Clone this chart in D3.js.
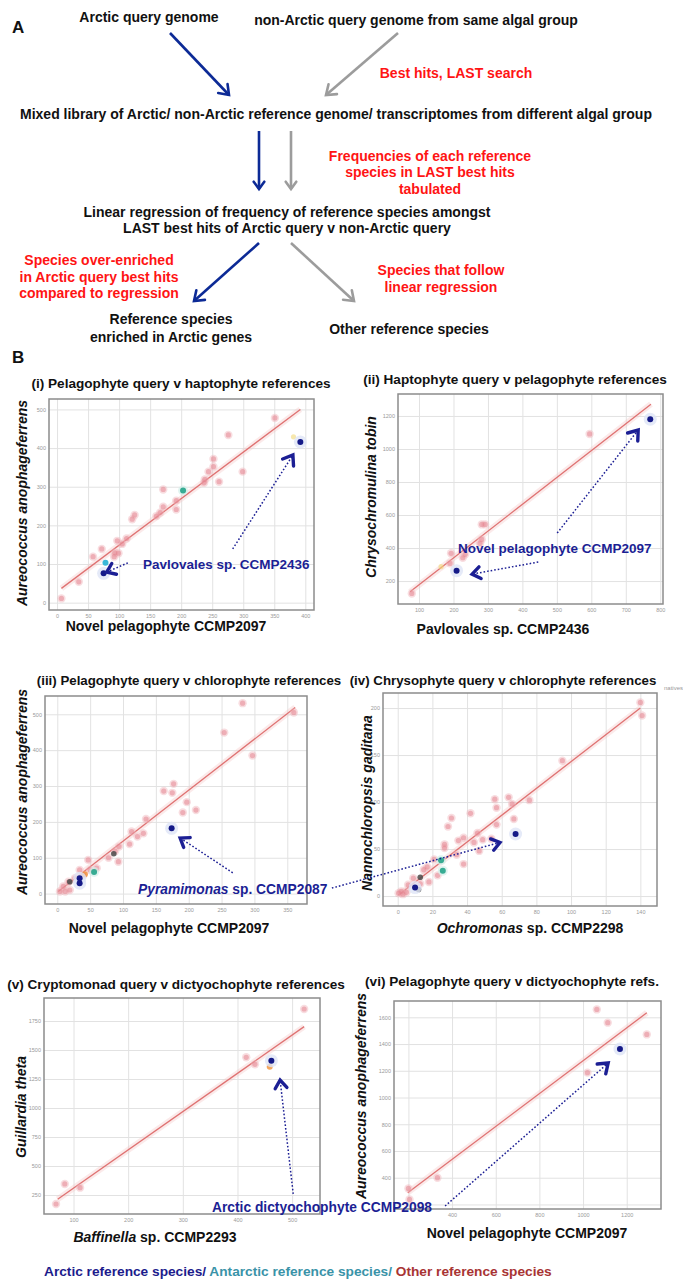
<!DOCTYPE html>
<html>
<head>
<meta charset="utf-8">
<script src="https://cdn.jsdelivr.net/npm/d3@7"></script>
<style>
  body { margin: 0; background: #fff; }
  text { font-family: "Liberation Sans", Arial, sans-serif; }
</style>
</head>
<body>
<svg id="fig" width="683" height="1286"></svg>
<script>
// ---- data ----
// (i) pelagophyte query v haptophyte references
const p1Other = [[7,11],[35,54],[58,119],[72,139],[93,129],[92,119],[99,128],[97,160],[105,152],[112,166],
  [121,216],[125,227],[160,224],[166,233],[171,248],[192,241],[192,264],[171,293],[237,310],[238,319],
  [244,339],[252,352],[252,372],[261,313],[276,434],[299,339],[351,478]];
const p1Yellow = [[381,429]];
const p1Antarctic = [[78,103],[203,290]];
const p1Arctic = [[75,76],[392,416]];
const p1Fit = [[7,37],[392,500]];
const p1XTicks = [0,50,100,150,200,250,300,350,400];
const p1YTicks = [0,100,200,300,400,500];

// (ii) haptophyte query v pelagophyte references
const p2Other = [[79,125],[190,307],[193,368],[227,341],[234,362],[277,428],[282,452],[282,543],[292,543],[595,1091]];
const p2Yellow = [[164,287]];
const p2Arctic = [[209,263],[771,1180]];
const p2Fit = [[74,135],[773,1271]];
const p2XTicks = [100,200,300,400,500,600,700,800];
const p2YTicks = [200,400,600,800,1000,1200];

// (iii) pelagophyte query v chlorophyte references
const p3Other = [[360,505],[282,531],[254,449],[297,385],[177,306],[175,281],[162,286],[197,255],[211,233],
  [191,226],[135,208],[113,173],[131,168],[122,159],[110,138],[94,131],[93,89],[78,100],[47,94],[88,118],
  [60,71],[50,66],[34,66],[40,52],[27,43],[17,33],[9,20],[4,6],[12,6],[19,10]];
const p3Orange = [[42,54]];
const p3Dark = [[19,33],[86,111]];
const p3Antarctic = [[56,60]];
const p3Arctic = [[34,43],[34,29],[174,182]];
const p3Fit = [[1.5,6],[362,519]];
const p3XTicks = [0,50,100,150,200,250,300,350];
const p3YTicks = [0,100,200,300,400,500];

// (iv) chrysophyte query v chlorophyte references
const p4Other = [[140,206],[141,192],[95,144],[76,102],[64,105],[66,98],[56,103],[57,94],[57,76],[67,82],
  [42,88],[31,83],[29,74],[46,67],[38,62],[35,59],[49,60],[54,61],[44,57],[47,48],[27,55],[27,51],[34,44],
  [38,34],[21,39],[17,31],[15,28],[23,22],[18,15],[9,19],[13,13],[6,12],[2,5],[0.5,3],[3,2],[5,4]];
const p4Dark = [[13,20],[12,7]];
const p4Antarctic = [[25,38],[26,27]];
const p4Arctic = [[68,66],[10,9]];
const p4Fit = [[0.4,1],[140,200]];
const p4XTicks = [0,20,40,60,80,100,120,140];
const p4YTicks = [0,50,100,150,200];

// (v) cryptomonad query v dictyochophyte references
const p5Other = [[68,172],[84,345],[112,313],[416,1437],[432,1376],[522,1853]];
const p5Orange = [[459,1356]];
const p5Arctic = [[462,1408]];
const p5Fit = [[71,213],[522,1701]];
const p5XTicks = [100,200,300,400,500];
const p5YTicks = [250,500,750,1000,1250,1500,1750];

// (vi) pelagophyte query v dictyochophyte refs
const p6Other = [[200,320],[205,238],[333,400],[1020,1186],[1063,1659],[1113,1560],[1292,1472]];
const p6Arctic = [[1169,1363]];
const p6Fit = [[197,288],[1292,1634]];
const p6XTicks = [200,400,600,800,1000,1200];
const p6YTicks = [200,400,600,800,1000,1200,1400,1600];
// labels hidden under the "Arctic dictyochophyte" callout in the original
const p6HiddenX = [200], p6HiddenY = [200];

const navy = "#1c1f94", red = "#ff1414", grey = "#9c9c9c", flowBlue = "#0c2a96";

const svg = d3.select("#fig");

// ---------- helpers ----------
function txt(x, y, str, opt = {}) {
  return svg.append("text")
    .attr("x", x).attr("y", y)
    .attr("text-anchor", opt.anchor || "middle")
    .attr("font-size", opt.size || 14)
    .attr("font-weight", opt.weight || "bold")
    .attr("fill", opt.fill || "#111")
    .text(str);
}

function chevron(g, x1, y1, x2, y2, color, len, w) {
  const a = Math.atan2(y2 - y1, x2 - x1), s = Math.PI / 5;
  const p = d3.path();
  p.moveTo(x2 - len * Math.cos(a - s), y2 - len * Math.sin(a - s));
  p.lineTo(x2, y2);
  p.lineTo(x2 - len * Math.cos(a + s), y2 - len * Math.sin(a + s));
  g.append("path").attr("d", p.toString())
    .attr("fill", "none").attr("stroke", color)
    .attr("stroke-width", w).attr("stroke-linecap", "round");
}

function arrow(x1, y1, x2, y2, color, w, dotted, headLen, headW) {
  const g = svg.append("g");
  g.append("line")
    .attr("x1", x1).attr("y1", y1).attr("x2", x2).attr("y2", y2)
    .attr("stroke", color).attr("stroke-width", w)
    .attr("stroke-dasharray", dotted ? "1.6,2" : null);
  chevron(g, x1, y1, x2, y2, color, headLen, headW);
}

// ---------- panel A: flow chart ----------
txt(12, 33, "A", {anchor: "start", size: 17});
txt(149, 22, "Arctic query genome");
txt(416, 25, "non-Arctic query genome from same algal group");
arrow(170, 33, 229, 95, flowBlue, 2.6, false, 11, 2.6);
arrow(398, 33, 326, 95, grey, 2.6, false, 11, 2.6);
txt(456, 78, "Best hits, LAST search", {fill: red});
txt(336, 119, "Mixed library of Arctic/ non-Arctic reference genome/ transcriptomes from different algal group");
arrow(259, 131, 259, 189, flowBlue, 2.6, false, 9, 2.6);
arrow(291, 131, 291, 189, grey, 2.6, false, 9, 2.6);
txt(430, 161, "Frequencies of each reference", {fill: red});
txt(430, 177, "species in LAST best hits", {fill: red});
txt(430, 194, "tabulated", {fill: red});
txt(287, 217, "Linear regression of frequency of reference species amongst");
txt(287, 233, "LAST best hits of Arctic query v non-Arctic query");
arrow(259, 243, 194, 301, flowBlue, 2.6, false, 11, 2.6);
arrow(291, 243, 354, 301, grey, 2.6, false, 11, 2.6);
txt(99, 265, "Species over-enriched", {fill: red});
txt(99, 282, "in Arctic query best hits", {fill: red});
txt(99, 298, "compared to regression", {fill: red});
txt(441, 275, "Species that follow", {fill: red});
txt(441, 292, "linear regression", {fill: red});
txt(171, 324, "Reference species");
txt(171, 342, "enriched in Arctic genes");
txt(409, 334, "Other reference species");
txt(12, 363, "B", {anchor: "start", size: 17});

// ---------- panel B: scatter plots ----------
function labelParts(sel, parts) {
  parts.forEach(([s, it]) => sel.append("tspan").attr("font-style", it ? "italic" : "normal").text(s));
}

function drawPanel(p) {
  const x = d3.scaleLinear().domain(p.xDomain).range([p.box[0], p.box[2]]);
  const y = d3.scaleLinear().domain(p.yDomain).range([p.box[3], p.box[1]]);
  const g = svg.append("g");
  const w = p.box[2] - p.box[0], h = p.box[3] - p.box[1];
  const hx = p.hideX || [], hy = p.hideY || [];

  g.append("rect").attr("x", p.box[0]).attr("y", p.box[1]).attr("width", w).attr("height", h)
    .attr("fill", "#fff");

  const ax = g.append("g").attr("transform", `translate(0,${p.box[3]})`)
    .call(d3.axisBottom(x).tickValues(p.xTicks).tickSize(-h).tickPadding(4)
      .tickFormat(d => hx.includes(d) ? "" : d3.format("d")(d)));
  const ay = g.append("g").attr("transform", `translate(${p.box[0]},0)`)
    .call(d3.axisLeft(y).tickValues(p.yTicks).tickSize(-w).tickPadding(3)
      .tickFormat(d => hy.includes(d) ? "" : d3.format("d")(d)));
  [ax, ay].forEach(a => {
    a.select(".domain").remove();
    a.selectAll("line").attr("stroke", "#e2e2e2").attr("stroke-width", 1);
    a.selectAll("text").attr("font-size", 5.5).attr("fill", "#9a9a9a")
      .attr("font-family", "DejaVu Sans").attr("font-weight", "normal");
  });

  g.append("rect").attr("x", p.box[0]).attr("y", p.box[1]).attr("width", w).attr("height", h)
    .attr("fill", "none").attr("stroke", "#8c8c8c").attr("stroke-width", 1.5);

  const line = d3.line().x(d => x(d[0])).y(d => y(d[1]));
  g.append("path").attr("d", line(p.fit)).attr("stroke", "#f3c4c4").attr("stroke-width", 6)
    .attr("stroke-opacity", 0.35).attr("fill", "none");
  g.append("path").attr("d", line(p.fit)).attr("stroke", "#df7272").attr("stroke-width", 1.3)
    .attr("fill", "none");

  const dots = (data, fill, r, op) => g.append("g").selectAll("circle").data(data || []).join("circle")
    .attr("cx", d => x(d[0])).attr("cy", d => y(d[1])).attr("r", r)
    .attr("fill", fill).attr("fill-opacity", op);

  dots(p.other, "#f0b3ba", 4.2, 0.45);
  dots(p.other, "#e47f8c", 2.6, 0.5);
  dots(p.yellow, "#f2d878", 2.6, 0.6);
  dots(p.orange, "#f08a2a", 3, 0.75);
  dots(p.dark, "#4a4a4a", 2.8, 0.85);
  dots(p.antarctic, "#d3efea", 5, 0.7);
  dots(p.antarctic, p.antColor || "#2ea88e", 3, 0.95);
  dots(p.arctic, "#dfe5f6", 6.5, 0.8);
  dots(p.arctic, "#151a88", 3, 1);

  // titles and axis labels
  txt(p.title[0], p.title[1], p.title[2], {size: p.titleSize || 13.6});
  const xl = svg.append("text").attr("x", p.xLabel[0]).attr("y", p.xLabel[1])
    .attr("text-anchor", "middle").attr("font-size", 14).attr("font-weight", "bold").attr("fill", "#111");
  labelParts(xl, p.xLabel[2]);
  svg.append("text")
    .attr("transform", `translate(${p.yLabel[0]},${p.yLabel[1]}) rotate(-90)`)
    .attr("text-anchor", "middle").attr("font-size", 14).attr("font-weight", "bold")
    .attr("font-style", "italic").attr("fill", "#111").text(p.yLabel[2]);
  return {x, y};
}

const s1 = drawPanel({
  box: [49, 399, 314, 610], xDomain: [-13, 414], yDomain: [-19, 527],
  xTicks: p1XTicks, yTicks: p1YTicks, fit: p1Fit,
  other: p1Other, yellow: p1Yellow, antarctic: p1Antarctic.slice(1), arctic: p1Arctic,
  title: [181, 388, "(i) Pelagophyte query v haptophyte references"],
  xLabel: [166, 631, [["Novel pelagophyte CCMP2097", false]]],
  yLabel: [27, 503, "Aureococcus anophageferrens"]
});
// the other Antarctic point in (i) is a lighter cyan
svg.append("circle").attr("cx", s1.x(p1Antarctic[0][0])).attr("cy", s1.y(p1Antarctic[0][1]))
  .attr("r", 3).attr("fill", "#3ab8d8");

const s2 = drawPanel({
  box: [398, 394, 663, 604], xDomain: [39, 808], yDomain: [61, 1333],
  xTicks: p2XTicks, yTicks: p2YTicks, fit: p2Fit,
  other: p2Other, yellow: p2Yellow, arctic: p2Arctic,
  title: [515, 384, "(ii) Haptophyte query v pelagophyte references"],
  xLabel: [503, 634, [["Pavlovales sp. CCMP2436", false]]],
  yLabel: [376, 497, "Chrysochromulina tobin"]
});

const s3 = drawPanel({
  box: [45, 696, 307, 904], xDomain: [-18.7, 380], yDomain: [-29, 551],
  xTicks: p3XTicks, yTicks: p3YTicks, fit: p3Fit,
  other: p3Other, orange: p3Orange, dark: p3Dark, antarctic: p3Antarctic, arctic: p3Arctic,
  title: [189, 685, "(iii) Pelagophyte query v chlorophyte references"], titleSize: 13.3,
  xLabel: [169, 933, [["Novel pelagophyte CCMP2097", false]]],
  yLabel: [27, 792, "Aureococcus anophageferrens"]
});

const s4 = drawPanel({
  box: [383, 693, 657, 906], xDomain: [-8.5, 149.6], yDomain: [-10.6, 216],
  xTicks: p4XTicks, yTicks: p4YTicks, fit: p4Fit,
  other: p4Other, dark: p4Dark, antarctic: p4Antarctic, arctic: p4Arctic,
  title: [503, 685, "(iv) Chrysophyte query v chlorophyte references"], titleSize: 13.3,
  xLabel: [530, 933, [["Ochromonas", true], [" sp. CCMP2298", false]]],
  yLabel: [372, 803, "Nannochloropsis gaditana"]
});
txt(664, 690, "natives", {anchor: "start", size: 6, weight: "normal", fill: "#999"});

const s5 = drawPanel({
  box: [44, 998, 320, 1214], xDomain: [46, 551], yDomain: [86, 1948],
  xTicks: p5XTicks, yTicks: p5YTicks, fit: p5Fit,
  other: p5Other, orange: p5Orange, arctic: p5Arctic,
  title: [176, 989, "(v) Cryptomonad query v dictyochophyte references"],
  xLabel: [155, 1242, [["Baffinella", true], [" sp. CCMP2293", false]]],
  yLabel: [26, 1107, "Guillardia theta"]
});

const s6 = drawPanel({
  box: [394, 1001, 661, 1209], xDomain: [134, 1357], yDomain: [166, 1722],
  xTicks: p6XTicks, yTicks: p6YTicks, fit: p6Fit, hideX: p6HiddenX, hideY: p6HiddenY,
  other: p6Other, arctic: p6Arctic,
  title: [512, 986, "(vi) Pelagophyte query v dictyochophyte refs."],
  xLabel: [527, 1238, [["Novel pelagophyte CCMP2097", false]]],
  yLabel: [366, 1096, "Aureococcus anophageferrens"]
});

// ---------- annotations ----------
txt(143, 569, "Pavlovales sp. CCMP2436", {anchor: "start", size: 13.5, fill: navy});
arrow(s1.x(283), s1.y(139), s1.x(380), s1.y(382), navy, 1.5, true, 11, 3.4);
arrow(s1.x(114), s1.y(103), s1.x(80), s1.y(79), navy, 1.5, true, 10, 3.4);

txt(458, 553, "Novel pelagophyte CCMP2097", {anchor: "start", size: 13.5, fill: navy});
arrow(s2.x(501), s2.y(491), s2.x(736), s2.y(1115), navy, 1.5, true, 11, 3.4);
arrow(s2.x(446), s2.y(315), s2.x(254), s2.y(242), navy, 1.5, true, 10, 3.4);

const pyr = svg.append("text").attr("x", 138).attr("y", 894).attr("font-size", 13.8)
  .attr("font-weight", "bold").attr("fill", navy);
labelParts(pyr, [["Pyramimonas", true], [" sp. CCMP2087", false]]);
arrow(s3.x(267), s3.y(58), s3.x(187), s3.y(155), navy, 1.5, true, 10, 3.4);
arrow(s4.x(-38), s4.y(8.5), s4.x(59), s4.y(57), navy, 1.5, true, 10, 3.4);

txt(212, 1212, "Arctic dictyochophyte CCMP2098", {anchor: "start", size: 13.8, fill: navy});
arrow(s5.x(502), s5.y(259), s5.x(478), s5.y(1241), navy, 1.5, true, 10, 3.4);
arrow(s6.x(368), s6.y(188), s6.x(1115), s6.y(1258), navy, 1.5, true, 11, 3.4);

// ---------- legend ----------
const leg = svg.append("text").attr("x", 44).attr("y", 1276).attr("font-size", 13.7).attr("font-weight", "bold");
leg.append("tspan").attr("fill", "#1c1c8c").text("Arctic reference species/ ");
leg.append("tspan").attr("fill", "#3a93a8").text("Antarctic reference species/ ");
leg.append("tspan").attr("fill", "#a83434").text("Other reference species");
</script>
</body>
</html>
